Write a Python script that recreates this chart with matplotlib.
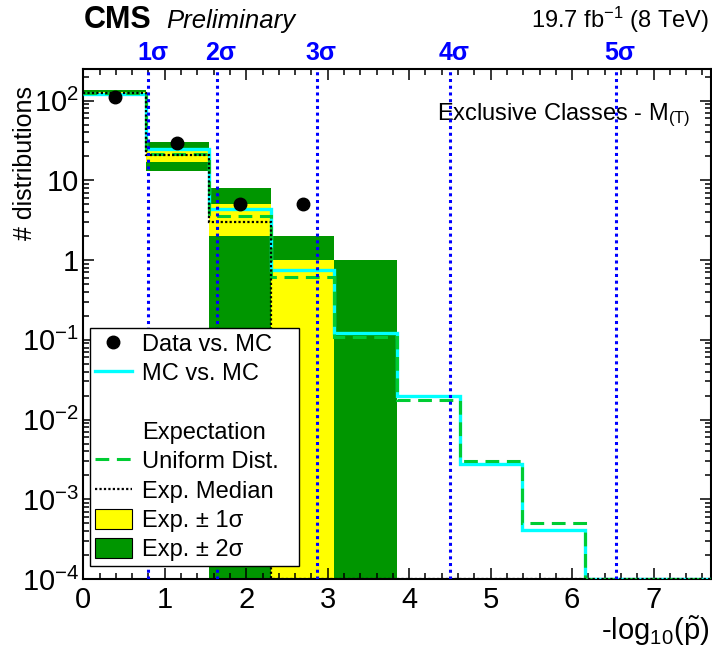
import numpy as np
import matplotlib
matplotlib.use('Agg')
import matplotlib.pyplot as plt
from matplotlib.lines import Line2D
from matplotlib.patches import Patch
from matplotlib.ticker import FixedLocator, FuncFormatter, MultipleLocator, LogLocator, NullFormatter

plt.rcParams['font.family'] = ['Liberation Sans', 'DejaVu Sans']
plt.rcParams['mathtext.fontset'] = 'custom'
plt.rcParams['mathtext.rm'] = 'Liberation Sans'
plt.rcParams['mathtext.it'] = 'Liberation Sans:italic'
plt.rcParams['mathtext.bf'] = 'Liberation Sans:bold'

# binning in -log10(p)
bin_edges = np.linspace(0.0, 7.7, 11)

# observed number of distributions per bin (Data vs. MC)
data_counts = [111, 29, 5, 5, 0, 0, 0, 0, 0, 0]
# MC vs. MC
mc_vs_mc = [120.0, 24.7, 4.35, 0.76, 0.123, 0.0196, 0.00277, 0.00041, 0.0, 0.0]
# expectation from a uniform p-value distribution
uniform_dist = [124.5, 21.2, 3.6, 0.62, 0.107, 0.0177, 0.0030, 0.00051, 0.0, 0.0]
exp_median = [124, 21, 3, 0, 0, 0, 0, 0, 0, 0]
# expectation bands
band1_lo = [120, 17, 2, 0, 0, 0, 0, 0, 0, 0]
band1_hi = [129, 25, 5, 1, 0, 0, 0, 0, 0, 0]
band2_lo = [115, 13, 0, 0, 0, 0, 0, 0, 0, 0]
band2_hi = [134, 30, 8, 2, 1, 0, 0, 0, 0, 0]

# one-sided significance thresholds
sigma_names = ['1σ', '2σ', '3σ', '4σ', '5σ']
sigma_pos = [0.80, 1.64, 2.87, 4.50, 6.54]

y_min, y_max = 1e-4, 250.0
x_min, x_max = 0.0, 7.7

fig = plt.figure(figsize=(7.12, 6.54), dpi=100)
ax = fig.add_axes([0.117, 0.1147, 0.881, 0.78])

widths = np.diff(bin_edges)
lefts = bin_edges[:-1]


def draw_band(lo, hi, color):
    lo = np.asarray(lo, dtype=float)
    hi = np.asarray(hi, dtype=float)
    m = hi > 0
    bottom = np.where(lo > 0, lo, y_min * 0.1)
    ax.bar(lefts[m], (hi - bottom)[m], bottom=bottom[m], width=widths[m],
           align='edge', color=color, linewidth=0, zorder=1)


draw_band(band2_lo, band2_hi, '#009600')
draw_band(band1_lo, band1_hi, '#ffff00')

# histogram lines, empty bins sit on the lower frame
ax.stairs(np.maximum(mc_vs_mc, y_min), bin_edges, baseline=None,
          color='#00ffff', lw=2.4, zorder=3)
ax.stairs(np.maximum(uniform_dist, y_min), bin_edges, baseline=None,
          color='#00cc33', lw=2.2, ls=(0, (4.5, 2.5)), zorder=4)
ax.stairs(np.maximum(exp_median, y_min), bin_edges, baseline=None,
          color='black', lw=1.6, ls=(0, (1, 1)), zorder=5)

for xs in sigma_pos:
    ax.axvline(xs, color='#0000ff', lw=2.2, ls=(0, (1, 1.2)), zorder=6)

centers = 0.5 * (bin_edges[1:] + bin_edges[:-1])
data_counts = np.asarray(data_counts, dtype=float)
has_data = data_counts > 0
ax.plot(centers[has_data], data_counts[has_data], 'o', color='black',
        markersize=9, zorder=7)

ax.set_xlim(x_min, x_max)
ax.set_yscale('log')
ax.set_ylim(y_min, y_max)


def log_label(v, pos):
    n = int(round(np.log10(v)))
    if n == 0:
        return '1'
    if n == 1:
        return '10'
    return '10$^{%d}$' % n


ax.yaxis.set_major_locator(FixedLocator([10.0**k for k in range(-4, 3)]))
ax.yaxis.set_major_formatter(FuncFormatter(log_label))
ax.yaxis.set_minor_locator(LogLocator(base=10, subs=np.arange(2, 10), numticks=20))
ax.yaxis.set_minor_formatter(NullFormatter())
ax.xaxis.set_major_locator(MultipleLocator(1))
ax.xaxis.set_minor_locator(MultipleLocator(0.2))

ax.tick_params(which='both', direction='in', top=True, right=True, width=1.1)
ax.tick_params(which='major', length=8, labelsize=21)
ax.tick_params(axis='x', which='major', pad=5)
ax.tick_params(axis='y', which='major', pad=3)
ax.tick_params(which='minor', length=4.5)
for s in ax.spines.values():
    s.set_linewidth(1.5)

for name, xs in zip(sigma_names, sigma_pos):
    ax.text(xs + 0.05, 1.0176, name, transform=ax.get_xaxis_transform(),
            ha='center', va='baseline', fontsize=18, fontweight='bold', color='#0000ff')

ax.text(0.564, 0.9, r'Exclusive Classes - M$_{\mathrm{(T)}}$', transform=ax.transAxes,
        ha='left', va='baseline', fontsize=17)

fig.text(84 / 712, 1 - 28 / 654, 'CMS', fontsize=22, fontweight='bold', va='baseline')
fig.text(166 / 712, 1 - 28 / 654, 'Preliminary', fontsize=18.5, style='italic', va='baseline')
fig.text(709 / 712, 1 - 28 / 654, r'19.7 fb$^{-1}$ (8 TeV)', fontsize=17, ha='right', va='baseline')

fig.text(709 / 712, 1 - 640 / 654, r'-log$_{10}$($\tilde{\mathrm{p}}$)', fontsize=21,
         ha='right', va='baseline')
fig.text(25 / 712, 1 - 86 / 654, '# distributions', fontsize=18, rotation=90,
         ha='center', va='top')

handles = [
    Line2D([], [], marker='o', color='black', ls='none', markersize=9),
    Line2D([], [], color='#00ffff', lw=2.4),
    Line2D([], [], ls='none'),
    Line2D([], [], ls='none'),
    Line2D([], [], color='#00cc33', lw=2.2, ls=(0, (4.5, 2.5))),
    Line2D([], [], color='black', lw=1.6, ls=(0, (1, 1))),
    Patch(facecolor='#ffff00', edgecolor='black', lw=0.8),
    Patch(facecolor='#009600', edgecolor='black', lw=0.8),
]
labels = ['Data vs. MC', 'MC vs. MC', ' ', 'Expectation', 'Uniform Dist.',
          'Exp. Median', 'Exp. ± 1σ', 'Exp. ± 2σ']
leg = ax.legend(handles, labels, loc='lower left',
                bbox_to_anchor=(0.0107, 0.0255, 0.333, 0.47), mode='expand',
                borderaxespad=0, fontsize=17, labelspacing=0.27, borderpad=0.2,
                handlelength=1.57, handleheight=0.9, handletextpad=0.45,
                fancybox=False, framealpha=1, edgecolor='black')
leg.get_frame().set_linewidth(1.0)
leg.set_zorder(10)

fig.savefig('out.png', dpi=100)
